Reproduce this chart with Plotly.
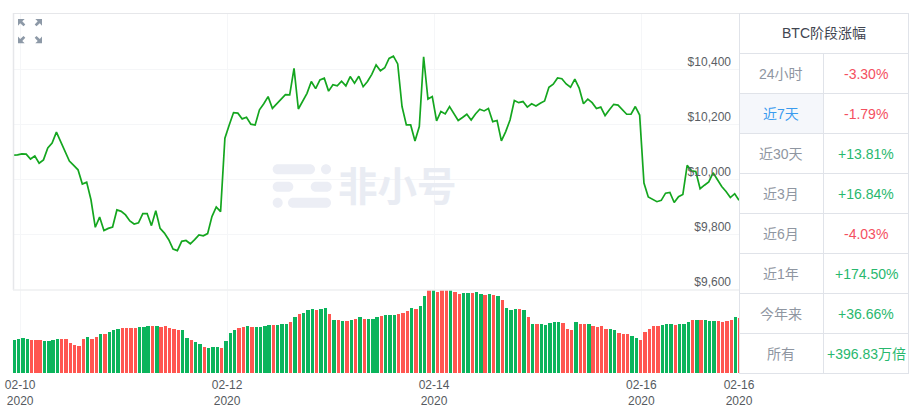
import plotly.graph_objects as go

W, H = 916, 407

price = [10090,10091,10095,10094,10076,10087,10061,10073,10116,10134,10174,10140,10103,10069,10053,10037,9985,9992,9928,9828,
9865,9816,9824,9829,9891,9886,9873,9851,9840,9844,9878,9878,9834,9888,9824,9807,9783,9749,9743,9777,
9780,9768,9783,9800,9797,9805,9867,9902,9885,10152,10200,10245,10243,10222,10228,10203,10200,10255,10277,10303,
10260,10277,10294,10310,10309,10406,10258,10285,10315,10358,10332,10364,10370,10323,10346,10342,10359,10342,10376,10352,
10377,10339,10358,10384,10418,10397,10408,10442,10450,10422,10267,10200,10200,10142,10194,10448,10294,10303,10215,10249,
10240,10267,10243,10216,10227,10239,10218,10240,10257,10251,10260,10212,10216,10142,10176,10218,10289,10281,10285,10265,
10277,10269,10279,10287,10337,10348,10371,10368,10349,10337,10367,10334,10277,10294,10281,10260,10265,10234,10255,10275,
10272,10255,10239,10239,10267,10236,9989,9938,9928,9921,9926,9952,9955,9918,9939,9947,10053,10033,10031,9968,
9981,9993,10026,10001,9976,9958,9936,9950,9926]

volume = [32.7,34.3,34.7,34,32.7,32.7,32.7,32.3,31.7,32.7,34.3,33.7,34.3,30,28.3,27.3,34.3,35.7,34.3,36,
38.7,39.3,41,42.7,44.3,45,45,45,45,45.7,46.3,47,47.3,47,46,46.7,45.3,44.3,42.7,42.7,
34.7,32.7,31,28.7,26,25.3,26,26,25.3,31.7,40,43.3,45.3,45.7,46.7,
45.7,45.7,45.7,46.7,48.3,48,48,48.7,49.3,51.3,55.7,58.7,60,62.7,64.3,62.7,64,65.3,59.3,52.7,
52.7,52,52,52.7,54.3,56,54.3,53.7,53.7,55.7,57.3,57.7,57.7,58.3,58.7,60,62,65,64,67,
77,82.7,82.7,81.3,82.7,82.7,82.7,80.7,79,79.7,80,80,81.3,79.3,78,79,78.3,76.7,
72.7,65.3,62.7,64.3,64,62.7,56,49.3,49.3,49.3,47.7,50.3,50.7,51.3,50.3,44,43.3,50.7,49.3,49.3,
48.7,47.3,46,46.7,44.3,44,43.3,40,39.3,38.7,37.3,35.3,33.3,40.7,44.3,47,47.3,48.3,49,48.7,
47.7,49.3,49.3,51,52.7,53.3,53,52.7,51.7,52,51.7,51,52.3,52.7,55.7,55.3]

direction = list(
    "GGGGRRRGGGGRRRRRRGRRGRGGGRRRRGGGRGRRRRRGGRGGRGGGRGGGRRG"
    "RGGGGRGGGRGRGGGRGGRGRGRGRGRGGGRGGGRRRGRGGRGRRRGRRGGRGGRGRG"
    "RGGGRGRGRGGGGGRRRGRRGRRRRGGRRRGGRRRRRGGGRGGGRGRGGGRRRRGR"
)

periods = ["24小时", "近7天", "近30天", "近3月", "近6月", "近1年", "今年来", "所有"]
changes = ["-3.30%", "-1.79%", "+13.81%", "+16.84%", "-4.03%", "+174.50%", "+36.66%", "+396.83万倍"]
table_title = "BTC阶段涨幅"
selected_period = "近7天"

date_ticks = [1.6, 49.5, 97.4, 145.4, 168]
date_labels = ["02-10<br>2020", "02-12<br>2020", "02-14<br>2020", "02-16<br>2020", "02-16<br>2020"]
price_ticks = [9600, 9800, 10000, 10200, 10400]
price_labels = ["$9,600", "$9,800", "$10,000", "$10,200", "$10,400"]

FONT = "Liberation Sans, Helvetica, Arial, 'Noto Sans CJK SC', sans-serif"
GREEN, RED = "#0bb45c", "#ff5650"
GRID = "#f5f6f8"
TABLE_LINE = "#e0e3e9"


def px(x):
    return x / W


def py(y):
    return 1 - y / H


x_idx = list(range(len(price)))
bar_x = list(range(len(volume)))
bar_colors = [GREEN if d == "G" else RED for d in direction]

fig = go.Figure()
fig.add_trace(go.Bar(x=bar_x, y=volume, marker=dict(color=bar_colors, line_width=0),
                     width=0.78, offset=-0.15, xaxis="x", yaxis="y", hoverinfo="skip"))
fig.add_trace(go.Scatter(x=x_idx, y=price, mode="lines", line=dict(color="#14a61f", width=1.7),
                         xaxis="x2", yaxis="y2", hoverinfo="skip"))

shapes, annos = [], []


def hline(y, x0, x1, color, w=1):
    shapes.append(dict(type="line", xref="paper", yref="paper", x0=px(x0), x1=px(x1),
                       y0=py(y), y1=py(y), line=dict(color=color, width=w), layer="above"))


def vline(x, y0, y1, color, w=1):
    shapes.append(dict(type="line", xref="paper", yref="paper", x0=px(x), x1=px(x),
                       y0=py(y0), y1=py(y1), line=dict(color=color, width=w), layer="above"))


def poly(points, color, layer="above"):
    d = "M" + " L".join(f"{px(a):.5f},{py(b):.5f}" for a, b in points) + " Z"
    shapes.append(dict(type="path", path=d, xref="paper", yref="paper", fillcolor=color,
                       line=dict(width=0), layer=layer))


def pill(x0, x1, yc, r, color):
    k = r * 0.5523
    p = lambda a, b: f"{px(a):.5f},{py(b):.5f}"
    d = (f"M{p(x0 + r, yc - r)} L{p(x1 - r, yc - r)} "
         f"C{p(x1 - r + k, yc - r)} {p(x1, yc - k)} {p(x1, yc)} "
         f"C{p(x1, yc + k)} {p(x1 - r + k, yc + r)} {p(x1 - r, yc + r)} "
         f"L{p(x0 + r, yc + r)} "
         f"C{p(x0 + r - k, yc + r)} {p(x0, yc + k)} {p(x0, yc)} "
         f"C{p(x0, yc - k)} {p(x0 + r - k, yc - r)} {p(x0 + r, yc - r)} Z")
    shapes.append(dict(type="path", path=d, xref="paper", yref="paper", fillcolor=color,
                       line=dict(width=0), layer="below"))


def text(x, y, s, size, color, **kw):
    annos.append(dict(xref="paper", yref="paper", x=px(x), y=py(y), text=s, showarrow=False,
                      xanchor="center", yanchor="middle",
                      font=dict(family=FONT, size=size, color=color), **kw))


# frame of the chart panels
vline(13.5, 13, 290, "#e6e7ea", 1.5)
hline(13.5, 13, 739, "#e6e7ea", 1)
hline(290, 13, 739, "#eeeff1", 1.5)

# watermark logo
MARK = "#eceef5"
pill(272.7, 315, 169.3, 5, MARK)
pill(321, 331, 169.3, 5, MARK)
pill(272.7, 293.3, 186.7, 5, MARK)
pill(310.7, 331.7, 186.7, 5, MARK)
pill(272.7, 282.7, 202.7, 5, MARK)
pill(288, 331, 202.7, 5, MARK)
text(397.5, 186.5, "<b>非小号</b>", 39.5, "#e9ecf3")

# zoom icon
ICON = "#8d99a7"
for cx, cy, sx, sy in [(21.5, 22.5, -1, -1), (38.5, 22.5, 1, -1), (21.5, 39.8, -1, 1), (38.5, 39.8, 1, 1)]:
    base = [(3.5, 3.5), (-3.2, 3.5), (-0.8, 1.3), (-3.8, -2), (-2, -3.7), (1.3, -0.8), (3.5, -3.2)]
    poly([(cx + sx * a, cy + sy * b) for a, b in base], ICON)

# table
shapes.append(dict(type="rect", xref="paper", yref="paper", x0=px(739.5), x1=px(823.5),
                   y0=py(93.5), y1=py(133.5), fillcolor="#f5f7fb", line=dict(width=0), layer="below"))
top, header_h, row_h = 13.5, 40, 40
bottom = top + header_h + row_h * len(periods)
hline(top, 739, 909, TABLE_LINE)
hline(top + header_h, 739, 909, TABLE_LINE)
for i in range(len(periods)):
    hline(top + header_h + row_h * (i + 1), 739, 909, TABLE_LINE)
vline(739.5, top, bottom, TABLE_LINE)
vline(823.5, top + header_h, bottom, TABLE_LINE)
vline(908.5, top, bottom, TABLE_LINE)
text(824, 33, table_title, 14, "#3f4450")
for i, (p, c) in enumerate(zip(periods, changes)):
    yc = top + header_h + row_h * (i + 0.5)
    text(781, yc, p, 14, "#3a9bef" if p == selected_period else "#8f96a1")
    text(866, yc, c, 14, "#28b86e" if c.startswith("+") else "#f4505f")

xbase = dict(range=[-0.05, 168], showline=False, zeroline=False, gridcolor=GRID, gridwidth=1,
             tickmode="array", tickvals=date_ticks, ticks="", fixedrange=True, automargin=False)
fig.update_layout(
    template="none",
    width=W, height=H, autosize=False, margin=dict(l=0, r=0, t=0, b=0, pad=0, autoexpand=False),
    paper_bgcolor="white", plot_bgcolor="white", showlegend=False, bargap=0,
    font=dict(family=FONT),
    xaxis=dict(domain=[px(13), px(739)], anchor="y", ticktext=date_labels, showticklabels=True,
               tickfont=dict(family=FONT, size=12, color="#555a60"), tickangle=0, ticklabeloverflow="allow",
               ticklabelstandoff=3, **xbase),
    xaxis2=dict(domain=[px(13), px(739)], anchor="y2", ticktext=date_labels, showticklabels=False, **xbase),
    yaxis=dict(domain=[py(373), py(290)], anchor="x", range=[0, 83], showgrid=False, zeroline=False,
               showticklabels=False, fixedrange=True, automargin=False),
    yaxis2=dict(domain=[py(290), py(13)], anchor="x2", range=[9600, 10607], side="right",
                tickmode="array", tickvals=price_ticks, ticktext=price_labels,
                ticklabelposition="inside", ticklabelstandoff=5, ticklabelshift=-8,
                ticklabeloverflow="allow",
                tickfont=dict(family=FONT, size=12, color="#5a5e64"), automargin=False,
                gridcolor=GRID, zeroline=False, showline=False, ticks="", fixedrange=True),
    shapes=shapes, annotations=annos,
)
assert len(direction) == len(volume), (len(direction), len(volume))
fig.write_html("out.html", config={"displayModeBar": False, "staticPlot": True},
               post_script="document.body.style.margin='0';document.body.style.overflow='hidden';")
